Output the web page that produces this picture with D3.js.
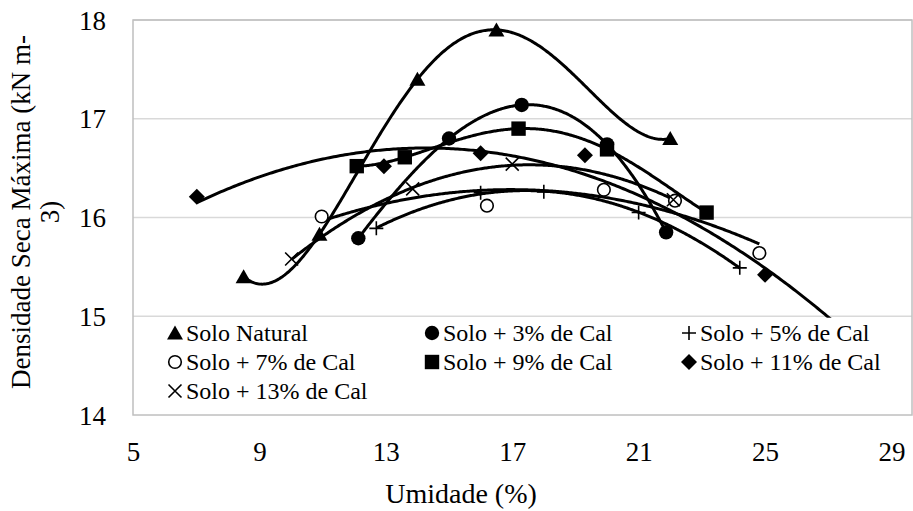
<!DOCTYPE html>
<html>
<head>
<meta charset="utf-8">
<script src="https://cdn.jsdelivr.net/npm/d3@7"></script>
<style>
  body { margin: 0; background: #fff; }
  svg { display: block; }
</style>
</head>
<body>
<svg id="chart" width="913" height="511"></svg>
<script>
// Moisture (%) and maximum dry density (kN m-3) per mixture
const naturalX = [8.5, 10.9, 14.0, 16.5, 22.0];
const naturalY = [15.40, 15.83, 17.40, 17.90, 16.80];
const cal3X = [12.13, 15.0, 17.3, 20.0, 21.87];
const cal3Y = [15.79, 16.80, 17.14, 16.74, 15.85];
const cal5X = [12.7, 16.0, 18.0, 21.0, 24.2];
const cal5Y = [15.89, 16.25, 16.26, 16.05, 15.49];
const cal7X = [10.97, 16.2, 19.9, 22.15, 24.82];
const cal7Y = [16.01, 16.12, 16.28, 16.17, 15.64];
const cal9X = [12.08, 13.6, 17.2, 20.0, 23.15];
const cal9Y = [16.52, 16.61, 16.90, 16.69, 16.05];
const cal11X = [7.02, 12.94, 16.0, 19.3, 25.0];
const cal11Y = [16.21, 16.52, 16.65, 16.63, 15.42];
const cal13X = [10.02, 13.85, 17.0, 22.1];
const cal13Y = [15.58, 16.29, 16.54, 16.18];

const seriesLabels = ["Solo Natural", "Solo + 3% de Cal", "Solo + 5% de Cal",
  "Solo + 7% de Cal", "Solo + 9% de Cal", "Solo + 11% de Cal", "Solo + 13% de Cal"];
const xTicks = [5, 9, 13, 17, 21, 25, 29];
const yTicks = [14, 15, 16, 17, 18];

const FONT = "'Liberation Serif', 'Times New Roman', serif";

// polynomial trendline order and marker shape for each series
const series = [
  { name: seriesLabels[0], x: naturalX, y: naturalY, order: 4, marker: "triangle" },
  { name: seriesLabels[1], x: cal3X, y: cal3Y, order: 4, marker: "circle" },
  { name: seriesLabels[2], x: cal5X, y: cal5Y, order: 2, marker: "plus" },
  { name: seriesLabels[3], x: cal7X, y: cal7Y, order: 2, marker: "ring" },
  { name: seriesLabels[4], x: cal9X, y: cal9Y, order: 4, marker: "square" },
  { name: seriesLabels[5], x: cal11X, y: cal11Y, order: 2, marker: "diamond", forward: 3 },
  { name: seriesLabels[6], x: cal13X, y: cal13Y, order: 2, marker: "times" }
];

const svg = d3.select("#chart");
const plot = { left: 133, top: 20, right: 912, bottom: 415 };

const x = d3.scaleLinear().domain([5, 29.65]).range([plot.left, plot.right]);
const y = d3.scaleLinear().domain([14, 18]).range([plot.bottom, plot.top]);

// least squares polynomial fit
function polyfit(xs, ys, deg) {
  const mx = d3.mean(xs);
  const n = deg + 1;
  const A = Array.from({ length: n }, () => new Array(n + 1).fill(0));
  xs.forEach((xv, i) => {
    const u = xv - mx;
    for (let r = 0; r < n; r++) {
      for (let c = 0; c < n; c++) A[r][c] += Math.pow(u, r + c);
      A[r][n] += Math.pow(u, r) * ys[i];
    }
  });
  for (let k = 0; k < n; k++) {
    let p = k;
    for (let r = k + 1; r < n; r++) if (Math.abs(A[r][k]) > Math.abs(A[p][k])) p = r;
    [A[k], A[p]] = [A[p], A[k]];
    for (let r = 0; r < n; r++) {
      if (r === k) continue;
      const f = A[r][k] / A[k][k];
      for (let c = k; c <= n; c++) A[r][c] -= f * A[k][c];
    }
  }
  const coef = A.map((row, i) => row[n] / row[i]);
  return v => coef.reduce((s, c, i) => s + c * Math.pow(v - mx, i), 0);
}

// gridlines
svg.append("g")
  .selectAll("line")
  .data(yTicks.slice(1))
  .join("line")
  .attr("x1", plot.left).attr("x2", plot.right)
  .attr("y1", d => y(d)).attr("y2", d => y(d))
  .attr("stroke", "#d9d9d9").attr("stroke-width", 1.5);

svg.append("clipPath").attr("id", "plotClip")
  .append("rect")
  .attr("x", plot.left).attr("y", plot.top)
  .attr("width", plot.right - plot.left).attr("height", plot.bottom - plot.top);

// trendlines
const lineGen = d3.line().x(d => x(d[0])).y(d => y(d[1]));
const curves = svg.append("g").attr("clip-path", "url(#plotClip)");
series.forEach(s => {
  const f = polyfit(s.x, s.y, s.order);
  const x0 = d3.min(s.x), x1 = d3.max(s.x) + (s.forward || 0);
  const pts = d3.range(0, 301).map(i => {
    const xv = x0 + (x1 - x0) * i / 300;
    return [xv, f(xv)];
  });
  curves.append("path")
    .attr("d", lineGen(pts))
    .attr("fill", "none")
    .attr("stroke", "#000")
    .attr("stroke-width", 3)
    .attr("stroke-linejoin", "round");
});

// marker drawing
function drawMarker(g, type, cx, cy) {
  const m = g.append("g").attr("transform", `translate(${cx},${cy})`);
  switch (type) {
    case "triangle":
      m.append("path").attr("d", "M0,-7.5L8,6.5L-8,6.5Z").attr("fill", "#000");
      break;
    case "circle":
      m.append("circle").attr("r", 7.2).attr("fill", "#000");
      break;
    case "ring":
      m.append("circle").attr("r", 6.3).attr("fill", "#fff").attr("stroke", "#000").attr("stroke-width", 1.6);
      break;
    case "square":
      m.append("rect").attr("x", -7.2).attr("y", -7.2).attr("width", 14.4).attr("height", 14.4).attr("fill", "#000");
      break;
    case "diamond":
      m.append("path").attr("d", "M0,-8L8,0L0,8L-8,0Z").attr("fill", "#000");
      break;
    case "plus":
      m.append("path").attr("d", "M-7,0H7M0,-7V7").attr("stroke", "#000").attr("stroke-width", 1.6);
      break;
    case "times":
      m.append("path").attr("d", "M-6.5,-6.5L6.5,6.5M-6.5,6.5L6.5,-6.5").attr("stroke", "#000").attr("stroke-width", 1.6);
      break;
  }
}

const markers = svg.append("g");
series.forEach(s => {
  s.x.forEach((xv, i) => drawMarker(markers, s.marker, x(xv), y(s.y[i])));
});

// legend, drawn inside the plot area over a white box
const legend = svg.append("g");
legend.append("rect")
  .attr("x", plot.left + 3).attr("y", y(15) + 1.5)
  .attr("width", plot.right - plot.left - 5).attr("height", plot.bottom - y(15) - 3)
  .attr("fill", "#fff");
const colX = [175, 432, 689];
const rowY = [333, 362, 391];
series.forEach((s, i) => {
  const cx = colX[i % 3], cy = rowY[Math.floor(i / 3)];
  drawMarker(legend, s.marker, cx, cy);
  legend.append("text")
    .attr("x", cx + 11).attr("y", cy + 8)
    .style("font-family", FONT)
    .style("font-size", "24px")
    .text(s.name);
});

// plot border
svg.append("rect")
  .attr("x", plot.left).attr("y", plot.top)
  .attr("width", plot.right - plot.left).attr("height", plot.bottom - plot.top)
  .attr("fill", "none").attr("stroke", "#bfbfbf").attr("stroke-width", 1.5);

// axes
const xAxis = svg.append("g")
  .attr("transform", `translate(0,${plot.bottom})`)
  .call(d3.axisBottom(x).tickValues(xTicks).tickSize(0).tickFormat(d3.format("d")));
xAxis.select(".domain").remove();
xAxis.selectAll("text")
  .attr("y", 46).attr("dy", 0)
  .style("font-family", FONT)
  .style("font-size", "27px");

const yAxis = svg.append("g")
  .attr("transform", `translate(${plot.left},0)`)
  .call(d3.axisLeft(y).tickValues(yTicks).tickSize(0).tickFormat(d3.format("d")));
yAxis.select(".domain").remove();
yAxis.selectAll("text")
  .attr("x", -27).attr("dy", "0.34em")
  .style("font-family", FONT)
  .style("font-size", "27px");

// axis titles
svg.append("text")
  .attr("x", 461).attr("y", 503)
  .attr("text-anchor", "middle")
  .style("font-family", FONT)
  .style("font-size", "28px")
  .text("Umidade (%)");

const yTitle = svg.append("text")
  .attr("transform", "translate(0,212) rotate(-90)")
  .attr("text-anchor", "middle")
  .style("font-family", FONT)
  .style("font-size", "27px");
yTitle.append("tspan").attr("x", 0).attr("y", 30).text("Densidade Seca Máxima (kN m-");
yTitle.append("tspan").attr("x", 0).attr("y", 59).text("3)");
</script>
</body>
</html>
